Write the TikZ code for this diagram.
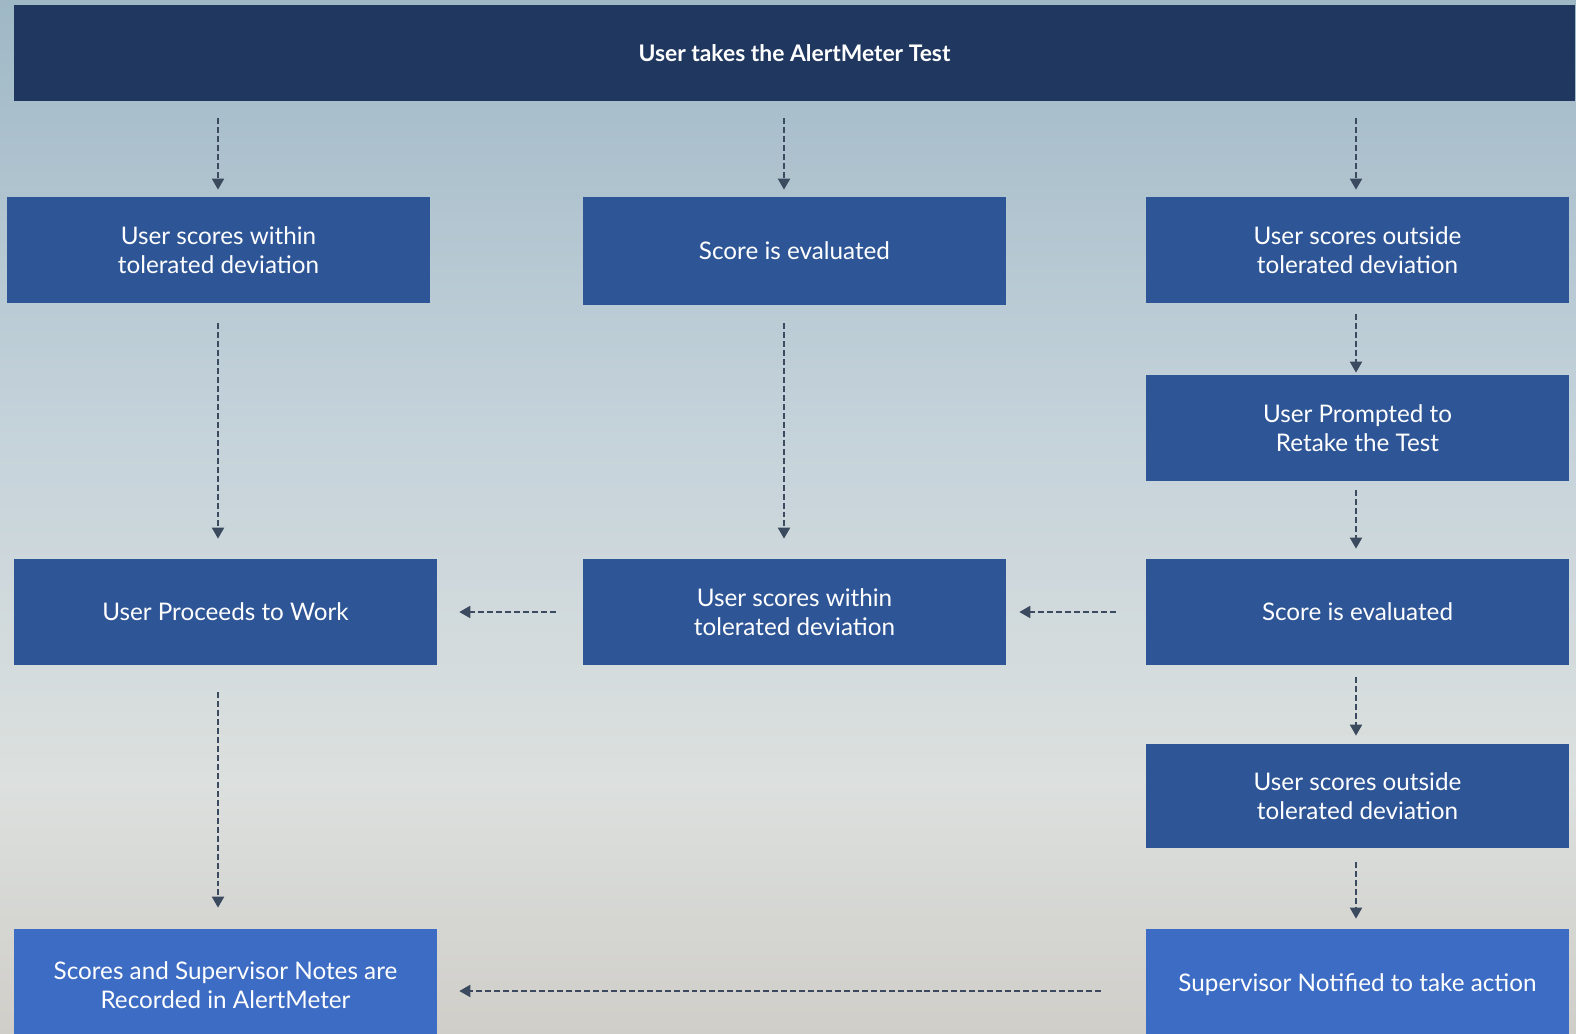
\documentclass[tikz,border=0pt]{standalone}
\usepackage{fontspec}
\setmainfont{Lato}
\usetikzlibrary{arrows.meta}
\definecolor{navy}{HTML}{20375F}
\definecolor{boxblue}{HTML}{2E5596}
\definecolor{lightblue}{HTML}{3C6CC3}
\definecolor{arrowgrey}{HTML}{3B4A5E}
\definecolor{skytop}{HTML}{9FB8C6}
\definecolor{skyhigh}{HTML}{C4D2DA}
\definecolor{skylow}{HTML}{DCE0DE}
\definecolor{skybot}{HTML}{D0CEC9}
\pgfdeclareverticalshading{sky}{100bp}{color(0bp)=(skybot); color(25bp)=(skybot);
  color(37.3bp)=(skylow); color(54.7bp)=(skyhigh); color(75bp)=(skytop); color(100bp)=(skytop)}
\tikzset{>={Triangle[length=0.22cm,width=0.24cm]}}

\begin{document}
\begin{tikzpicture}[x=0.02cm, y=-0.02cm,
  stepbox/.style={fill=boxblue, text=white, minimum width=8.46cm, minimum height=2.12cm,
    align=center, inner sep=0pt, font=\fontsize{13.8}{16.5}\selectfont},
  endbox/.style={stepbox, fill=lightblue, minimum height=2.24cm},
  flow/.style={->, arrowgrey, line width=1.1pt, dash pattern=on 3.4pt off 1.7pt}]
\clip (0,0) rectangle (1576,1034);
\shade[shading=sky] (0,0) rectangle (1576,1034);

% boxes
\node[fill=navy, text=white, minimum width=31.22cm, minimum height=1.92cm, inner sep=0pt,
  font=\bfseries\fontsize{13}{15}\selectfont] (test) at (794.5,53) {User takes the AlertMeter Test};
\node[stepbox] (within) at (218.5,250) {User scores within\\tolerated deviation};
\node[stepbox, minimum height=2.16cm] (eval) at (794.5,251) {Score is evaluated};
\node[stepbox] (outside) at (1357.5,250) {User scores outside\\tolerated deviation};
\node[stepbox] (retake) at (1357.5,428) {User Prompted to\\Retake the Test};
\node[stepbox] (work) at (225.5,612) {User Proceeds to Work};
\node[stepbox] (within2) at (794.5,612) {User scores within\\tolerated deviation};
\node[stepbox] (eval2) at (1357.5,612) {Score is evaluated};
\node[stepbox, minimum height=2.08cm] (outside2) at (1357.5,796) {User scores outside\\tolerated deviation};
\node[endbox] (record) at (225.5,985) {Scores and Supervisor Notes are\\Recorded in AlertMeter};
\node[endbox] (notify) at (1357.5,985) {Supervisor Notified to take action};

% columns of the arrows
\coordinate (colL) at (218,0);
\coordinate (colM) at (784,0);
\coordinate (colR) at (1356,0);

% arrows
\draw[flow, shorten <=0.34cm, shorten >=0.14cm] (test.south -| colL) -- (within.north -| colL);
\draw[flow, shorten <=0.34cm, shorten >=0.14cm] (test.south -| colM) -- (eval.north -| colM);
\draw[flow, shorten <=0.34cm, shorten >=0.14cm] (test.south -| colR) -- (outside.north -| colR);
\draw[flow, shorten <=0.4cm, shorten >=0.4cm] (within.south -| colL) -- (work.north -| colL);
\draw[flow, shorten <=0.36cm, shorten >=0.4cm] (eval.south -| colM) -- (within2.north -| colM);
\draw[flow, shorten <=0.22cm, shorten >=0.04cm] (outside.south -| colR) -- (retake.north -| colR);
\draw[flow, shorten <=0.18cm, shorten >=0.2cm] (retake.south -| colR) -- (eval2.north -| colR);
\draw[flow, shorten <=0.24cm, shorten >=0.16cm] (eval2.south -| colR) -- (outside2.north -| colR);
\draw[flow, shorten <=0.28cm, shorten >=0.2cm] (outside2.south -| colR) -- (notify.north -| colR);
\draw[flow, shorten <=0.54cm, shorten >=0.42cm] (work.south -| colL) -- (record.north -| colL);
\draw[flow, shorten <=0.54cm, shorten >=0.44cm] (within2.west) -- (work.east);
\draw[flow, shorten <=0.6cm, shorten >=0.26cm] (eval2.west) -- (within2.east);
\draw[flow, shorten <=0.9cm, shorten >=0.44cm] ([yshift=-0.12cm]notify.west) -- ([yshift=-0.12cm]record.east);
\end{tikzpicture}
\end{document}
